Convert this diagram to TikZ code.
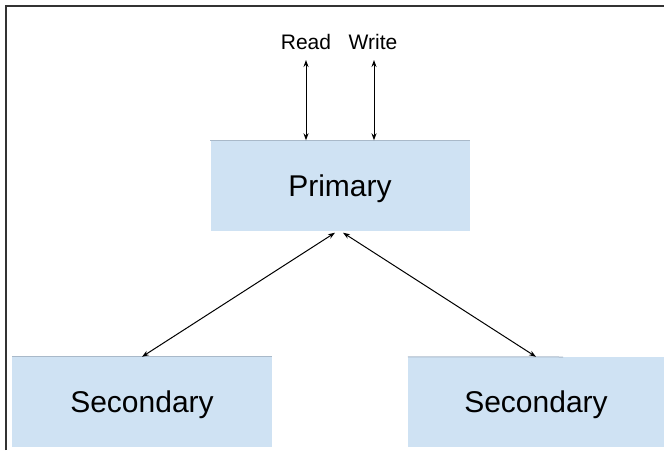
\documentclass[tikz,border=0pt]{standalone}
\usepackage{fontspec}
\setmainfont{Liberation Sans}
\usetikzlibrary{arrows.meta,calc}
\definecolor{boxfill}{HTML}{CFE2F3}
\definecolor{boxedge}{HTML}{A9B9C9}
\begin{document}
\begin{tikzpicture}[x=1pt,y=-1pt,
  blk/.style={fill=boxfill, inner sep=0pt, minimum height=90pt, text depth=0pt, font=\fontsize{30}{36}\selectfont},
  lbl/.style={inner sep=0pt, font=\fontsize{21}{25}\selectfont},
  conn/.style={{Stealth[length=7pt,width=5pt]}-{Stealth[length=7pt,width=5pt]}, line width=1pt},
  topedge/.style={draw=boxedge, line width=1pt}]
\useasboundingbox (0,0) rectangle (664,450);
\draw[line width=2pt, color=black!80] (5.5,450) -- (5.5,5.5) -- (664,5.5);

\node[blk, minimum width=259pt] (prim) at (340,185.5) {Primary};
\node[blk, minimum width=260pt] (secl) at (142,402) {Secondary};
\node[blk, minimum width=256pt] (secr) at (536,402) {Secondary};

\draw[topedge] (prim.north west) -- (prim.north east);
\draw[topedge] (secl.north west) -- (secl.north east);
\coordinate (secredge) at (563,357);
\draw[topedge] (secr.north west) -- (secredge);

\node[lbl] (read) at (306,42) {Read};
\node[lbl] (write) at (373,42) {Write};

\coordinate (rtop) at (306,60);
\coordinate (wtop) at (374,60);
\draw[conn] (rtop) -- (rtop |- prim.north);
\draw[conn] (wtop) -- (wtop |- prim.north);

\draw[conn] ($(prim.south)+(-5,2)$) -- (secl.north);
\draw[conn] ($(prim.south)+(3,2)$) -- (secr.north);
\end{tikzpicture}
\end{document}
